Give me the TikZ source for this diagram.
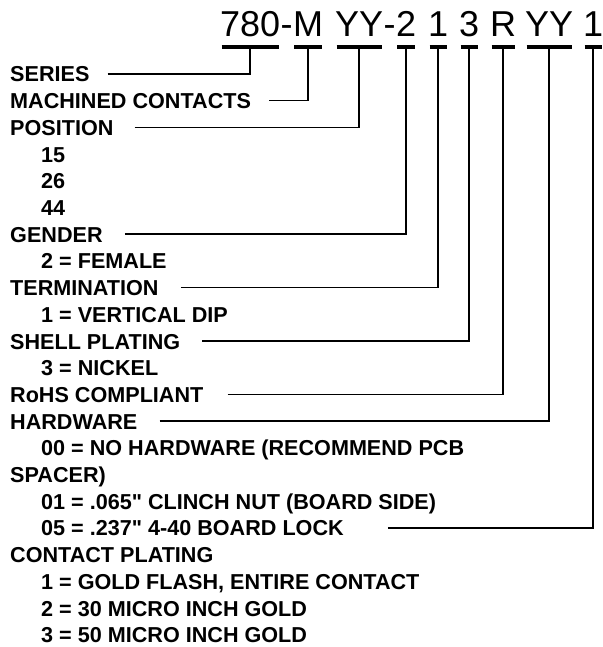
\documentclass[tikz,border=0pt]{standalone}
\usepackage{fontspec}
\setmainfont{Liberation Sans}
\usetikzlibrary{positioning}

\tikzset{
    part/.style={font=\fontsize{36}{36}\selectfont, inner sep=0pt, anchor=base west},
    head/.style={font=\bfseries\fontsize{21.6}{21.6}\selectfont, inner sep=0pt, anchor=base west},
    uline/.style={line width=4pt, shorten <=1.5pt, shorten >=1.5pt},
    leader/.style={line width=1.5pt},
}

\begin{document}
\begin{tikzpicture}[x=1pt, y=-1pt]

    \useasboundingbox (0,0) rectangle (602,647);

    % the part number
    \node[part] (p780) at (220,37) {780};
    \node[part, base right=0pt of p780] (dashA) {-};
    \node[part, base right=0pt of dashA] (pM) {M};
    \node[part] (pYYa) at (335,37) {YY};
    \node[part, base right=0pt of pYYa] (dashB) {-};
    \node[part, base right=0pt of dashB] (p2) {2};
    \node[part] (p1a) at (428,37) {1};
    \node[part] (p3) at (459,37) {3};
    \node[part] (pR) at (490,37) {R};
    \node[part] (pYYb) at (525,37) {YY};
    \node[part] (p1b) at (583,37) {1};

    \foreach \n in {p780,pM,pYYa,p2,p1a,p3,pR,pYYb,p1b}
        \path[draw, uline] ([yshift=-10pt]\n.base west) -- ([yshift=-10pt]\n.base east);

    % the legend
    \node[head] (series) at (10,82) {SERIES};
    \node[head] (machined) at (10,108.7) {MACHINED CONTACTS};
    \node[head] (position) at (10,135.4) {POSITION};
    \node[head] (pos15) at (41,162.1) {15};
    \node[head] (pos26) at (41,188.8) {26};
    \node[head] (pos44) at (41,215.5) {44};
    \node[head] (gender) at (10,242.2) {GENDER};
    \node[head] (female) at (41,268.9) {2 = FEMALE};
    \node[head] (termination) at (10,295.6) {TERMINATION};
    \node[head] (dip) at (41,322.3) {1 = VERTICAL DIP};
    \node[head] (shell) at (10,349) {SHELL PLATING};
    \node[head] (nickel) at (41,375.7) {3 = NICKEL};
    \node[head] (rohs) at (10,402.4) {RoHS COMPLIANT};
    \node[head] (hardware) at (10,429.1) {HARDWARE};
    \node[head] (hw00) at (41,455.8) {00 = NO HARDWARE (RECOMMEND PCB};
    \node[head] (spacer) at (10,482.5) {SPACER)};
    \node[head] (hw01) at (41,509.2) {01 = .065\textquotedbl{} CLINCH NUT (BOARD SIDE)};
    \node[head] (hw05) at (41,535.9) {05 = .237\textquotedbl{} 4-40 BOARD LOCK};
    \node[head] (contact) at (10,562.6) {CONTACT PLATING};
    \node[head] (gold1) at (41,589.3) {1 = GOLD FLASH, ENTIRE CONTACT};
    \node[head] (gold2) at (41,616) {2 = 30 MICRO INCH GOLD};
    \node[head] (gold3) at (41,642.7) {3 = 50 MICRO INCH GOLD};

    % draw the leaders
    \path[draw, leader] ([xshift=18pt, yshift=8pt]series.base east) -| ([yshift=-10pt]p780.base);
    \path[draw, leader] ([xshift=18pt, yshift=8pt]machined.base east) -| ([yshift=-10pt]pM.base);
    \path[draw, leader] ([xshift=21pt, yshift=8pt]position.base east) -| ([yshift=-10pt]pYYa.base);
    \path[draw, leader] ([xshift=22pt, yshift=8pt]gender.base east) -| ([yshift=-10pt]p2.base);
    \path[draw, leader] ([xshift=22pt, yshift=8pt]termination.base east) -| ([yshift=-10pt]p1a.base);
    \path[draw, leader] ([xshift=22pt, yshift=8pt]shell.base east) -| ([yshift=-10pt]p3.base);
    \path[draw, leader] ([xshift=24pt, yshift=8pt]rohs.base east) -| ([yshift=-10pt]pR.base);
    \path[draw, leader] ([xshift=22pt, yshift=8pt]hardware.base east) -| ([yshift=-10pt]pYYb.base);
    \path[draw, leader] ([xshift=44pt, yshift=8pt]hw05.base east) -| ([yshift=-10pt]p1b.base);

\end{tikzpicture}
\end{document}
